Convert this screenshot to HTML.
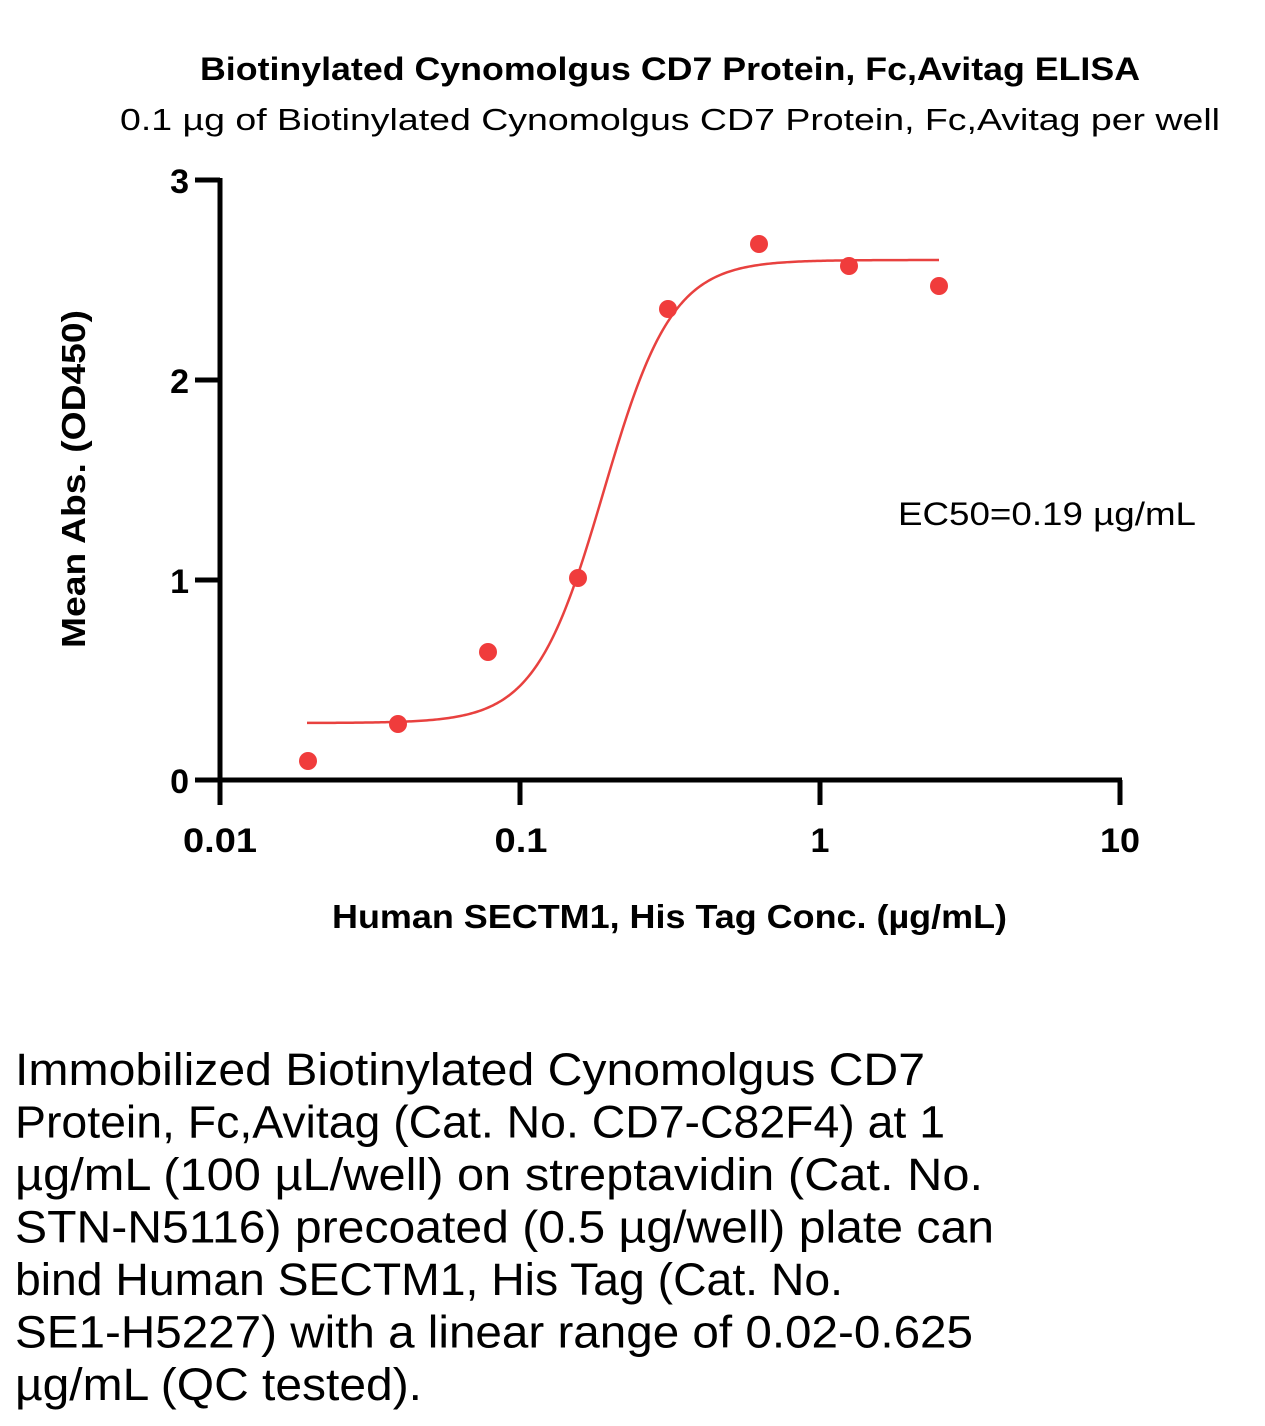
<!DOCTYPE html>
<html>
<head>
<meta charset="utf-8">
<style>
  html,body{margin:0;padding:0;background:#fff;}
  svg{display:block;}
  text{font-family:"Liberation Sans", sans-serif;fill:#000;}
</style>
</head>
<body>
<svg width="1265" height="1426" viewBox="0 0 1265 1426" xmlns="http://www.w3.org/2000/svg">
  <rect width="1265" height="1426" fill="#fff"/>

  <!-- Titles -->
  <text x="200" y="80" font-size="32" font-weight="bold" textLength="940" lengthAdjust="spacingAndGlyphs">Biotinylated Cynomolgus CD7 Protein, Fc,Avitag ELISA</text>
  <text x="120" y="130" font-size="31" textLength="1100" lengthAdjust="spacingAndGlyphs">0.1 µg of Biotinylated Cynomolgus CD7 Protein, Fc,Avitag per well</text>

  <!-- Axes -->
  <g stroke="#000" stroke-width="5" fill="none" stroke-linecap="butt">
    <line x1="220" y1="178" x2="220" y2="782"/>
    <line x1="195" y1="780" x2="1122" y2="780"/>
    <line x1="195" y1="180" x2="220" y2="180"/>
    <line x1="195" y1="380" x2="220" y2="380"/>
    <line x1="195" y1="580" x2="220" y2="580"/>
    <line x1="220" y1="780" x2="220" y2="805"/>
    <line x1="520" y1="780" x2="520" y2="805"/>
    <line x1="820" y1="780" x2="820" y2="805"/>
    <line x1="1120" y1="780" x2="1120" y2="805"/>
  </g>

  <!-- Y tick labels -->
  <g font-size="34" font-weight="bold" text-anchor="end">
    <text x="189" y="193">3</text>
    <text x="189" y="393">2</text>
    <text x="189" y="593">1</text>
    <text x="189" y="793">0</text>
  </g>

  <!-- X tick labels -->
  <g font-size="34" font-weight="bold" text-anchor="middle">
    <text x="220" y="852" textLength="74" lengthAdjust="spacingAndGlyphs">0.01</text>
    <text x="521" y="852" textLength="53" lengthAdjust="spacingAndGlyphs">0.1</text>
    <text x="820" y="852">1</text>
    <text x="1120" y="852" textLength="40" lengthAdjust="spacingAndGlyphs">10</text>
  </g>

  <!-- Axis titles -->
  <text x="332" y="928" font-size="33" font-weight="bold" textLength="675" lengthAdjust="spacingAndGlyphs">Human SECTM1, His Tag Conc. (µg/mL)</text>
  <text transform="translate(85,479) rotate(-90)" x="0" y="0" font-size="33" font-weight="bold" text-anchor="middle" textLength="338" lengthAdjust="spacingAndGlyphs">Mean Abs. (OD450)</text>

  <!-- EC50 -->
  <text x="898" y="525" font-size="32" textLength="298" lengthAdjust="spacingAndGlyphs">EC50=0.19 µg/mL</text>

  <!-- Curve -->
  <path id="curve" fill="none" stroke="#e8413f" stroke-width="2.5" d=""/>

  <!-- Data points -->
  <g fill="#f03c3c">
    <circle cx="308" cy="761" r="9"/>
    <circle cx="398" cy="724" r="9"/>
    <circle cx="488" cy="652" r="9"/>
    <circle cx="578" cy="578" r="9"/>
    <circle cx="668" cy="309" r="9"/>
    <circle cx="759" cy="244" r="9"/>
    <circle cx="849" cy="266" r="9"/>
    <circle cx="939" cy="286" r="9"/>
  </g>

  <!-- Description text -->
  <g font-size="45">
    <text x="15" y="1085" textLength="910" lengthAdjust="spacingAndGlyphs">Immobilized Biotinylated Cynomolgus CD7</text>
    <text x="15" y="1137.5" textLength="930" lengthAdjust="spacingAndGlyphs">Protein, Fc,Avitag (Cat. No. CD7-C82F4) at 1</text>
    <text x="15" y="1190" textLength="968" lengthAdjust="spacingAndGlyphs">µg/mL (100 µL/well) on streptavidin (Cat. No.</text>
    <text x="15" y="1242.5" textLength="979" lengthAdjust="spacingAndGlyphs">STN-N5116) precoated (0.5 µg/well) plate can</text>
    <text x="15" y="1295" textLength="828" lengthAdjust="spacingAndGlyphs">bind Human SECTM1, His Tag (Cat. No.</text>
    <text x="15" y="1347.5" textLength="958" lengthAdjust="spacingAndGlyphs">SE1-H5227) with a linear range of 0.02-0.625</text>
    <text x="15" y="1400" textLength="407" lengthAdjust="spacingAndGlyphs">µg/mL (QC tested).</text>
  </g>

  <script>
    (function(){
      var B=0.285,T=2.6,EC=0.19,h=3.8;
      var d="";
      for(var px=307;px<=939;px+=2){
        var lx=-2+(px-220)/300;
        var x=Math.pow(10,lx);
        var y=B+(T-B)/(1+Math.pow(EC/x,h));
        var py=780-200*y;
        d+=(px===307?"M":"L")+px+","+py.toFixed(2)+" ";
      }
      document.getElementById("curve").setAttribute("d",d);
    })();
  </script>
</svg>
</body>
</html>
